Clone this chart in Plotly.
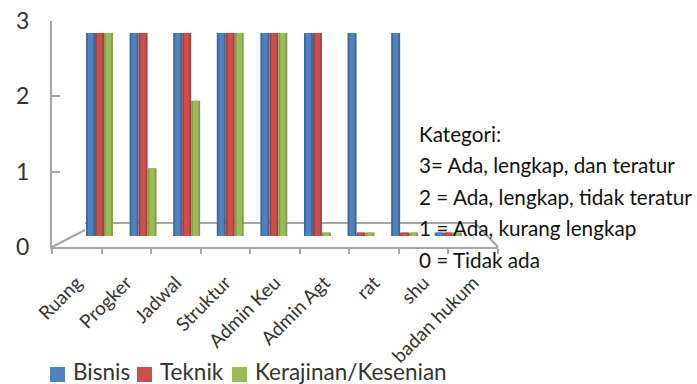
import plotly.graph_objects as go

W, H = 697, 384

categories = ["Ruang", "Progker", "Jadwal", "Struktur", "Admin Keu", "Admin Agt", "rat", "shu", "badan hukum"]
bisnis = [3, 3, 3, 3, 3, 3, 3, 3, 0.05]
teknik = [3, 3, 3, 3, 3, 3, 0.05, 0.05, 0.05]
kerajinan = [3, 1, 2, 3, 3, 0.05, 0.05, 0.05, 0.05]
y_ticks = [0, 1, 2, 3]
key_lines = [
    "Kategori:",
    "3= Ada, lengkap, dan teratur",
    "2 = Ada, lengkap, tidak teratur",
    "1 = Ada, kurang lengkap",
    "0 = Tidak ada",
]
key_rows = [134, 165, 197, 228, 260]

FONT = "Lato, Carlito, sans-serif"
AXIS = "#a6a6a6"
TEXT = "#333333"
BAR_W = 0.206
CATEGORY_RANGE = [-0.5, len(categories) - 0.5]


def px(x):
    return x / W


def py(y):
    return 1 - y / H


fig = go.Figure()

# Hidden traces that keep the front axes and the slanted labels on the page
for x_axis in ("x", "x3"):
    fig.add_trace(go.Scatter(x=categories, y=[0] * len(categories), xaxis=x_axis, yaxis="y",
                             mode="none", showlegend=False, hoverinfo="skip"))

series = [
    ("Bisnis", bisnis, "#4f81bd", "#39689f"),
    ("Teknik", teknik, "#c9504f", "#a83f3d"),
    ("Kerajinan/Kesenian", kerajinan, "#9bbb59", "#7f9f45"),
]
for i, (name, values, colour, edge) in enumerate(series):
    start = (i - 1.5) * BAR_W
    # Column body with darker sides, then a lighter centre for the rounded look
    fig.add_trace(go.Bar(name=name, x=categories, y=values, xaxis="x2", yaxis="y2",
                         width=BAR_W, offset=start, showlegend=False,
                         marker=dict(color=edge, line=dict(width=0))))
    fig.add_trace(go.Bar(name=name, x=categories, y=values, xaxis="x2", yaxis="y2",
                         width=BAR_W * 0.6, offset=start + BAR_W * 0.2, showlegend=False,
                         marker=dict(color=colour, line=dict(width=0))))

# Floor of the 3-D box, drawn behind the columns
floor = [
    (52, 247, 85, 230),
    (85, 223, 475, 223),
    (475, 223, 498, 247),
]
shapes = [
    dict(type="line", xref="paper", yref="paper", x0=px(a), y0=py(b), x1=px(c), y1=py(d),
         line=dict(color=AXIS, width=2), layer="below")
    for a, b, c, d in floor
]

annotations = [
    dict(text=t, xref="paper", yref="paper", x=px(417), y=py(r), xanchor="left", yanchor="middle",
         showarrow=False, font=dict(family=FONT, size=20.7, color="#111111"))
    for t, r in zip(key_lines, key_rows)
]

# Compact legend row under the chart
legend_items = [("Bisnis", "#4f81bd", 50, 71), ("Teknik", "#c9504f", 137, 158), ("Kerajinan/Kesenian", "#9bbb59", 232, 253)]
for label, colour, swatch_x, text_x in legend_items:
    shapes.append(dict(type="rect", xref="paper", yref="paper", x0=px(swatch_x), x1=px(swatch_x + 15),
                       y0=py(382), y1=py(367), fillcolor=colour, line=dict(width=0)))
    annotations.append(dict(text=label, xref="paper", yref="paper", x=px(text_x), y=py(371.5),
                            xanchor="left", yanchor="middle", showarrow=False,
                            font=dict(family=FONT, size=22.5, color=TEXT)))

fig.update_layout(
    width=W, height=H, margin=dict(l=0, r=0, t=0, b=0, autoexpand=False),
    paper_bgcolor="white", plot_bgcolor="rgba(0,0,0,0)",
    barmode="overlay", showlegend=False,
    font=dict(family=FONT, color=TEXT),
    shapes=shapes, annotations=annotations,
    xaxis=dict(
        domain=[px(52), px(498)], anchor="y", type="category", categoryorder="array",
        categoryarray=categories, range=CATEGORY_RANGE, showticklabels=False,
        tickson="boundaries", ticks="outside", ticklen=5, tickcolor=AXIS, tickwidth=2,
        showline=True, linecolor=AXIS, linewidth=2, showgrid=False, automargin=False,
    ),
    xaxis3=dict(
        domain=[px(52), px(498)], anchor="y", type="category", range=CATEGORY_RANGE,
        categoryorder="array", categoryarray=categories, tickmode="array", tickvals=categories,
        ticktext=categories, tickangle=-45, ticks="", showline=False, showgrid=False,
        automargin=False, ticklabelstandoff=20, tickfont=dict(size=19, color=TEXT),
    ),
    yaxis=dict(
        domain=[py(247), py(21)], range=[0, 3], anchor="x", tickmode="array", tickvals=y_ticks,
        ticks="inside", ticklen=8, tickcolor=AXIS, tickwidth=2, showline=True, linecolor=AXIS,
        linewidth=2, showgrid=False, zeroline=False, tickfont=dict(size=23, color=TEXT),
        ticklabelstandoff=16, automargin=False,
    ),
    xaxis2=dict(domain=[px(77.7), px(470)], anchor="y2", type="category", categoryorder="array",
                categoryarray=categories, visible=False, automargin=False),
    yaxis2=dict(domain=[py(236), py(33)], range=[0, 3], anchor="x2", visible=False, automargin=False),
)

fig.write_html("out.html")
